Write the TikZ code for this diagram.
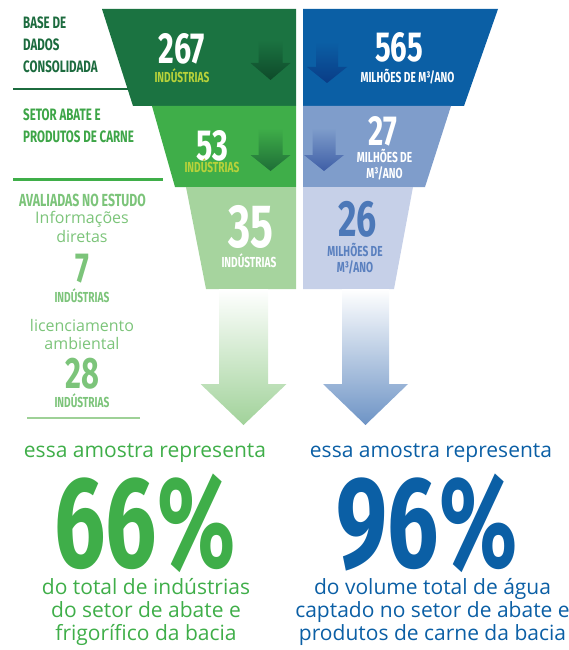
\documentclass[tikz,border=0pt]{standalone}
\usepackage{fontspec}
\setmainfont{Open Sans}
\newfontfamily\cond[FakeStretch=0.7]{Fira Sans}
\definecolor{gdark}{HTML}{1B7341}
\definecolor{gmid}{HTML}{3FAE49}
\definecolor{glight}{HTML}{A6D49E}
\definecolor{bdark}{HTML}{0B5FA5}
\definecolor{bmid}{HTML}{7F9DCB}
\definecolor{blight}{HTML}{C6D0E8}
\definecolor{ygreen}{HTML}{B8D23A}
\definecolor{tdark}{HTML}{1C6B3E}
\definecolor{tmid}{HTML}{3DA547}
\definecolor{tlight}{HTML}{7CC47A}
\definecolor{bnum}{HTML}{4C78B8}
\definecolor{btxt}{HTML}{5A80BF}
\definecolor{gdeep}{HTML}{0E4A2A}
\definecolor{gdeep2}{HTML}{1E6E37}
\definecolor{bdeep}{HTML}{0A3C86}
\definecolor{bdeep2}{HTML}{3E5EA6}
\newcommand\myfs[1]{\fontsize{#1}{#1}\selectfont}
\newcommand\lblfont{\cond\bfseries\fontsize{16.5}{22}\selectfont}
\newcommand\myarrow[6]{(#1-#5,#2) -- (#1+#5,#2) -- (#1+#5,#3) -- (#1+#6,#3) -- (#1,#4) -- (#1-#6,#3) -- (#1-#5,#3) -- cycle}
\tikzset{
  num/.style={inner sep=0pt, font=\cond\bfseries\myfs{#1}, text height=0.69*#1pt, text depth=0pt},
  cap/.style={inner sep=0pt, font=\cond\bfseries\myfs{#1}, text height=0.69*#1pt, text depth=0pt},
  lbl/.style={inner sep=0pt, font=\lblfont, align=left, anchor=west},
  body/.style={inner sep=0pt, font=\myfs{#1}, text height=0.72*#1pt, text depth=0.2*#1pt},
}
\begin{document}
\begin{tikzpicture}[x=1pt,y=-1pt]
\useasboundingbox (0,0) rectangle (569,650);
% funnel bands
\fill[gdark] (102,9) -- (296,9) -- (296,106) -- (133,106) -- cycle;
\fill[gmid] (152,106) -- (296,106) -- (296,187) -- (175,187) -- cycle;
\fill[glight] (186,187) -- (296,187) -- (296,289) -- (206,289) -- cycle;
\fill[bdark] (303,9) -- (498,9) -- (464,106) -- (303,106) -- cycle;
\fill[bmid] (303,106) -- (451,106) -- (425,187) -- (303,187) -- cycle;
\fill[blight] (303,187) -- (413,187) -- (394,289) -- (303,289) -- cycle;
% small arrows
\shade[top color=gdark, bottom color=gdeep] \myarrow{270.5}{40}{63}{80}{12}{20};
\shade[top color=gmid, bottom color=gdeep2] \myarrow{270.5}{128}{155}{171}{12}{20};
\shade[top color=bdark, bottom color=bdeep] \myarrow{327}{42}{67}{83}{11}{20};
\shade[top color=bmid, bottom color=bdeep2] \myarrow{324}{128}{155}{171}{11.5}{20};
% big arrows
\shade[top color=white, bottom color=glight!95!gmid] \myarrow{243.5}{289}{384}{425}{24.5}{43};
\shade[top color=white, bottom color=bmid!85!bdark] \myarrow{365.5}{289}{384}{425}{23.5}{42.5};
% separator lines
\draw[tdark, line width=2pt] (13,89) -- (128,89);
\draw[gmid, line width=2.5pt] (13,179.5) -- (163,179.5);
\draw[glight!80!tlight, line width=2.5pt] (27,418) -- (140,418);
% left labels
\node[lbl, text=tdark] (l1) at (23,44.5) {BASE DE\\DADOS\\CONSOLIDADA};
\node[lbl, text=tmid] (l2) at (23,125.5) {SETOR ABATE E\\PRODUTOS DE CARNE};
\node[cap=17.5, text=tlight] (l3) at (82.5,200) {AVALIADAS NO ESTUDO};
\node[body=16, text=tlight] (l4) at (82,219) {Informações};
\node[body=16, text=tlight] (l5) at (82,238) {diretas};
\node[num=42, text=tlight] (l6) at (82,268) {7};
\node[cap=14.5, text=tlight] (l7) at (82,297) {INDÚSTRIAS};
\node[body=16, text=tlight] (l8) at (82,327) {licenciamento};
\node[body=16, text=tlight] (l9) at (82,345) {ambiental};
\node[num=44, text=tlight] (l10) at (82,373) {28};
\node[cap=14.5, text=tlight] (l11) at (82,402) {INDÚSTRIAS};
% green band texts
\node[num=43.5, text=white] (g1) at (182,48) {267};
\node[cap=14.5, text=ygreen] (g1c) at (182,77.5) {INDÚSTRIAS};
\node[num=43.5, text=white] (g2) at (212,145) {53};
\node[cap=14.5, text=ygreen] (g2c) at (212,167.5) {INDÚSTRIAS};
\node[num=61, text=white] (g3) at (251,226.5) {35};
\node[cap=14.5, text=white] (g3c) at (249,262) {INDÚSTRIAS};
% blue band texts
\node[num=42, text=white] (b1) at (399,47.5) {565};
\node[cap=14.5, text=white] (b1c) at (407.5,77.5) {MILHÕES DE M³/ANO};
\node[num=42, text=white] (b2) at (383,131.5) {27};
\node[cap=14.5, text=white] (b2c) at (384.5,157) {MILHÕES DE};
\node[cap=14.5, text=white] (b2d) at (384.5,173) {M³/ANO};
\node[num=51, text=bnum] (b3) at (357.5,219) {26};
\node[cap=14.5, text=btxt] (b3c) at (355,251) {MILHÕES DE};
\node[cap=14.5, text=btxt] (b3d) at (355,267.5) {M³/ANO};
% bottom texts
\node[body=21, text=gmid] (e1) at (145,452) {essa amostra representa};
\node[body=21, text=bdark] (e2) at (431,452) {essa amostra representa};
\node[num=130, text=gmid] (p1) at (145,522.5) {66\%};
\node[num=130, text=bdark] (p2) at (427,522.5) {96\%};
\node[body=21, text=gmid] (d1) at (146,589) {do total de indústrias};
\node[body=21, text=gmid] (d2) at (146,612) {do setor de abate e};
\node[body=21, text=gmid] (d3) at (146,635) {frigorífico da bacia};
\node[body=21, text=bdark] (f1) at (432.5,589) {do volume total de água};
\node[body=21, text=bdark] (f2) at (432.5,612) {captado no setor de abate e};
\node[body=21, text=bdark] (f3) at (432.5,635) {produtos de carne da bacia};
\end{tikzpicture}
\end{document}
